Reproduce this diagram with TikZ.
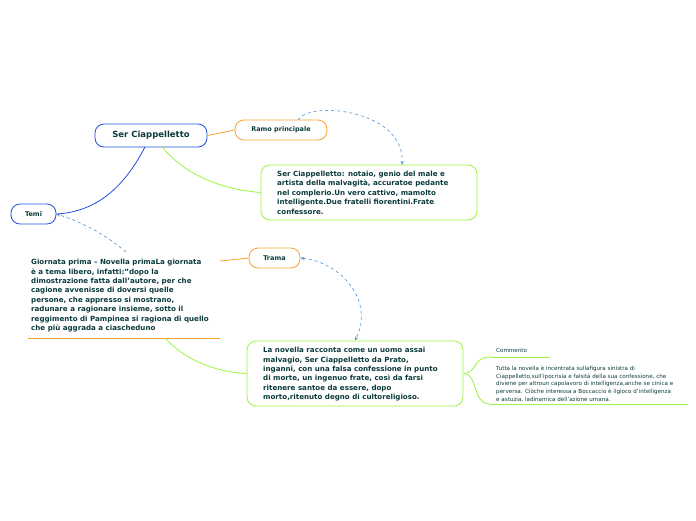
\documentclass[tikz,border=0pt]{standalone}
\usepackage{fontspec}
\setmainfont{DejaVu Sans}
\usetikzlibrary{arrows.meta}
\definecolor{txt}{HTML}{0B3A3A}
\definecolor{bl}{HTML}{1F4FE0}
\definecolor{or}{HTML}{F7A32B}
\definecolor{gr}{HTML}{9BF53C}
\definecolor{dsh}{HTML}{4A90D9}
\begin{document}
\begin{tikzpicture}[x=1pt,y=-1pt,
  box/.style={draw,rounded corners=9pt,line width=0.8pt,inner sep=0pt},
  t/.style={font=\bfseries\fontsize{7.1}{9.4}\selectfont,text=txt,align=left,anchor=north west,inner sep=0pt},
  s/.style={font=\fontsize{5.6}{7.6}\selectfont,text=txt,align=left,anchor=north west,inner sep=0pt},
  dl/.style={draw=dsh,dashed,line width=0.6pt}]
\useasboundingbox (0,0) rectangle (696,520);
\node[box,draw=bl,minimum width=112pt,minimum height=23pt,font=\bfseries\fontsize{8.5}{10}\selectfont,text=txt] (sc) at (151,135.5) {Ser Ciappelletto};
\node[box,draw=or,minimum width=92pt,minimum height=20pt,font=\bfseries\fontsize{6.5}{8}\selectfont,text=txt] (rp) at (281,130) {Ramo principale};
\node[box,draw=gr,minimum width=216pt,minimum height=55pt] (d1) at (369,192.5) {};
\coordinate (d1in) at (402,165);
\node[t] (d1t) at (277,171) {Ser Ciappelletto: notaio, genio del male e\\artista della malvagità, accuratoe pedante\\nel complerio.Un vero cattivo, mamolto\\intelligente.Due fratelli fiorentini.Frate\\confessore.};
\node[box,draw=bl,minimum width=45pt,minimum height=20pt,font=\bfseries\fontsize{6.5}{8}\selectfont,text=txt] (te) at (33.5,214) {Temi};
\node[t] (gi) at (31,259) {Giornata prima – Novella primaLa giornata\\è a tema libero, infatti:"dopo la\\dimostrazione fatta dall'autore, per che\\cagione avvenisse di doversi quelle\\persone, che appresso si mostrano,\\radunare a ragionare insieme, sotto il\\reggimento di Pampinea si ragiona di quello\\che più aggrada a ciascheduno};
\coordinate (gu1) at (28,338); \coordinate (gu2) at (220,338);
\draw[or,line width=0.8pt] (gu1) -- (gu2);
\node[box,draw=or,minimum width=51pt,minimum height=20pt,font=\bfseries\fontsize{6.5}{8}\selectfont,text=txt] (tr) at (274.5,258) {Trama};
\node[box,draw=gr,minimum width=216pt,minimum height=65pt] (d2) at (355,373.5) {};
\node[t] (d2t) at (263,347) {La novella racconta come un uomo assai\\malvagio, Ser Ciappelletto da Prato,\\inganni, con una falsa confessione in punto\\di morte, un ingenuo frate, così da farsi\\ritenere santoe da essere, dopo\\morto,ritenuto degno di cultoreligioso.};
\node[s] (co) at (496,348) {Commento};
\coordinate (cu1) at (490,357); \coordinate (cu2) at (550,357);
\draw[gr,line width=0.8pt] (cu1) -- (cu2);
\node[s] (tu) at (496,366) {Tutta la novella è incentrata sullafigura sinistra di\\Ciappelletto,sull'ipocrisia e falsità della sua confessione, che\\diviene per altroun capolavoro di intelligenza,anche se cinica e\\perversa. Ciòche interessa a Boccaccio è ilgioco d'intelligenza\\e astuzia, ladinamica dell'azione umana.};
\coordinate (tu1) at (490,404); \coordinate (tu2) at (688,404);
\draw[gr,line width=0.8pt] (tu1) -- (tu2);
% connectors
\draw[or,line width=0.8pt] (sc.east) -- (rp.west);
\draw[gr,line width=0.8pt] (162,147) .. controls (190,180) and (230,190) .. (d1.west);
\draw[bl,line width=0.8pt] (145,147) .. controls (120,195) and (90,212) .. (te.east);
\draw[dl,-{Stealth[length=4pt]}] (126,252) .. controls (100,230) and (75,220) .. (te.east);
\draw[dl,-{Stealth[length=4pt]}] (298,120) .. controls (310,100) and (405,110) .. (d1in);
\draw[dl,{Stealth[length=4pt]}-{Stealth[length=4pt]}] (tr.east) .. controls (340,262) and (375,300) .. (d2.north);
\draw[or,line width=0.8pt] (220,261) -- (tr.west);
\draw[gr,line width=0.8pt] (165,338) .. controls (185,360) and (215,372) .. (d2.west);
\draw[gr,line width=0.8pt] (d2.east) .. controls (478,373) and (472,357) .. (cu1);
\draw[gr,line width=0.8pt] (d2.east) .. controls (478,373) and (472,404) .. (tu1);
\end{tikzpicture}
\end{document}
